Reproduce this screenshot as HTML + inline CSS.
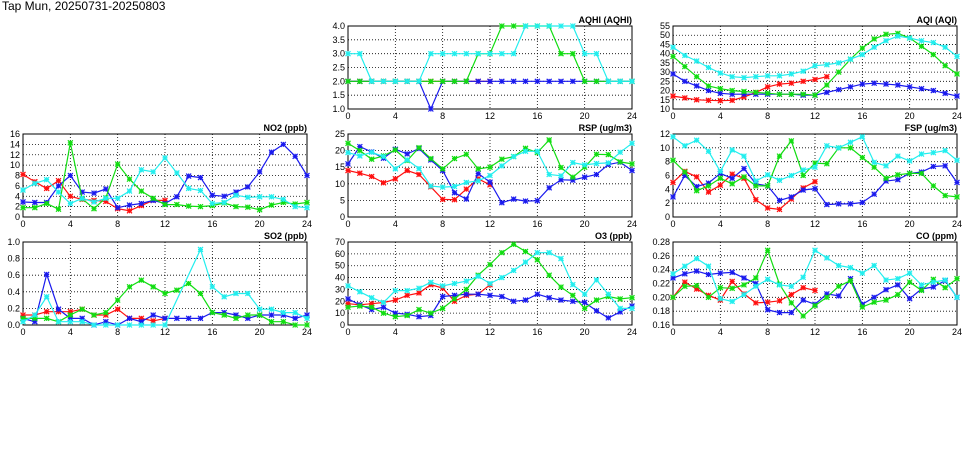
<!DOCTYPE html>
<html><head><meta charset="utf-8"><style>
body{margin:0;background:#fff;width:975px;height:447px;overflow:hidden}
svg text{font-family:"Liberation Sans",sans-serif;font-size:9px;fill:#000}
</style></head><body>
<svg id="chart" width="975" height="447" viewBox="0 0 975 447">
<text x="2" y="10" style="font-size:12px">Tap Mun, 20250731-20250803</text>
</svg>
<script>
const hours = [0,1,2,3,4,5,6,7,8,9,10,11,12,13,14,15,16,17,18,19,20,21,22,23,24];
const xTicks = [0,4,8,12,16,20,24];
const seriesColors = ["#ff1010","#1a1aee","#11dd11","#22eeee"];
const seriesNames = ["red","blue","green","cyan"];
const aqhiRed=[2,2,2,2,2,2,2,2,2,2,2,2,2];
const aqhiBlue=[2,2,2,2,2,2,2,1,2,2,2,2,2,2,2,2,2,2,2,2,2,2,2,2,2];
const aqhiGreen=[2,2,2,2,2,2,2,2,2,2,2,3,3,4,4,4,4,4,3,3,2,2,2,2,2];
const aqhiCyan=[3,3,2,2,2,2,2,3,3,3,3,3,3,3,3,4,4,4,4,4,3,3,2,2,2];
const aqiRed=[17,16,15,14.7,14.5,14.7,16.5,19,22,23.5,24,25,26,27.5];
const aqiBlue=[29,25,22.5,20,18.5,18,18,18,18,18,18,17.5,17.5,19,20.5,22,23.5,24,23.5,23,22,21,20,18.5,17];
const aqiGreen=[38.5,33,27.5,22.5,21,20,19.5,19,18.5,18,18,18,17.5,23,30,37,43,48,50.5,51,48.5,44,39.5,33.5,29];
const aqiCyan=[43.5,39,36,32.5,29.5,27.5,27,27.5,28,28,29,30.5,33.5,34,35,37,39.5,43.5,47,49.5,48.5,47,46,43.5,38.5];
const no2Red=[8.2,6.8,5.5,7,4,3.4,3.2,3.0,1.6,1.2,2.2,3.2,3.2];
const no2Blue=[2.9,2.8,2.8,6,8,4.8,4.6,5.4,1.8,2.3,2.6,3.2,2.6,3.9,7.9,7.6,4.2,4.0,4.8,5.8,8.7,12.5,14,11.7,8];
const no2Green=[1.8,1.8,2.6,1.5,14.3,3.5,1.6,3.7,10.2,7.3,5,3.6,2.4,2.4,2.1,2.0,2.2,2.7,2.0,1.9,1.4,2.3,2.8,2.5,2.8];
const no2Cyan=[5.2,6.5,7.2,4.8,2.6,3.6,2.9,3.6,3.6,5,9.1,8.7,11.4,8.5,5.5,5.1,2.6,2.8,4.2,3.8,3.9,3.9,3.4,2.0,1.8];
const rspRed=[14,13.2,12.2,10.3,11.5,14,12.8,9.1,5.3,5.2,8.4,11.5,9.7];
const rspBlue=[16,21.2,19.6,17.7,20.4,19,20.6,17.2,14,7.3,5.4,13.1,10.5,4.3,5.4,4.8,4.9,8.8,11.2,11.1,12,12.8,15.8,16.5,14];
const rspGreen=[22.2,20,17.4,18.4,20.2,17,20.9,17.6,14.5,17.6,18.9,14.5,15,17.4,18.2,20.7,19.4,23.2,14.9,12,15,18.9,18.8,16.6,16];
const rspCyan=[19.4,18.4,19.5,18.2,14.5,17.2,14.6,9.3,9,9.2,10.4,10.9,12.5,15.4,18.2,19.8,19.8,12.8,12.4,16.4,15.7,16.1,16.3,19.5,22.2];
const fspRed=[5,6.6,5.8,3.6,4.6,6.2,5.6,2.5,1.3,1.1,2.6,4.2,5.1];
const fspBlue=[2.9,6,4.4,4.9,6.3,5.6,7,4.8,4.5,2.4,2.9,3.9,4.1,1.8,1.9,1.9,2.1,3.3,5.2,5.4,6.3,6.5,7.3,7.4,5];
const fspGreen=[8.2,6.5,3.8,4.5,5.6,4.8,5.8,4.5,4.5,8.8,11,6,7.8,7.7,10,10,8.6,7.2,5.6,6.1,6.3,6.3,4.5,3.1,2.9];
const fspCyan=[11.6,10.3,11.1,9.5,6.6,9.7,8.8,5.2,6.1,5.3,6,6.8,7.2,10.3,10,10.8,11.6,7.9,7.4,8.8,8.1,9.1,9.3,9.6,8.2];
const so2Red=[0.12,0.12,0.16,0.16,0.16,0.19,0.12,0.12,0.19,0.08,0.08,0.05,0.08];
const so2Blue=[0.08,0.04,0.61,0.19,0.08,0.08,0.0,0.04,0.0,0.08,0.04,0.12,0.08,0.08,0.08,0.08,0.15,0.15,0.12,0.08,0.12,0.12,0.12,0.08,0.12];
const so2Green=[0.08,0.08,0.08,0.04,0.12,0.19,0.12,0.15,0.3,0.46,0.54,0.46,0.38,0.42,0.5,0.38,0.15,0.12,0.08,0.12,0.12,0.04,0.04,0.0,0.0];
const so2Cyan=[0.04,0.12,0.34,0.04,0.04,0.04,0.0,0.0,0.0,0.0,0.0,0.0,0.0,null,null,0.91,0.46,0.34,0.38,0.38,0.19,0.19,0.15,0.15,0.08];
const o3Red=[18,17,18,19,21,25,27,34,31,20,25,26,34];
const o3Blue=[22,17,13,15,10,9,7,8,24,25,26,26,25,24,20,21,26,23,21,20,19,12,6,11,16];
const o3Green=[15,16,15,10,7,8,13,10,14,22,30,42,51,61,68,62,55,42,32,25,14,21,24,22,23];
const o3Cyan=[33,28,23,19,29,29,31,36,33,35,37,41,35,40,46,53,61,61,56,34,26,38,26,14,14];
const coRed=[0.200,0.222,0.212,0.203,0.196,0.223,0.205,0.192,0.193,0.195,0.204,0.214,0.210];
const coBlue=[0.228,0.234,0.238,0.233,0.235,0.236,0.228,0.220,0.182,0.178,0.178,0.196,0.190,0.205,0.202,0.227,0.190,0.200,0.211,0.218,0.198,0.212,0.215,0.224,0.200];
const coGreen=[0.200,0.216,0.217,0.200,0.214,0.213,0.218,0.228,0.268,0.219,0.192,0.173,0.188,0.200,0.216,0.224,0.186,0.193,0.196,0.204,0.222,0.210,0.226,0.214,0.227];
const coCyan=[0.234,0.245,0.256,0.245,0.198,0.194,0.204,0.216,0.226,0.218,0.216,0.229,0.268,0.257,0.246,0.243,0.235,0.246,0.225,0.227,0.235,0.218,0.222,0.225,0.200];
const aqhiTicks=[1.0,1.5,2.0,2.5,3.0,3.5,4.0];
const aqiTicks=[10,15,20,25,30,35,40,45,50,55];
const no2Ticks=[0,2,4,6,8,10,12,14,16];
const rspTicks=[0,5,10,15,20,25];
const fspTicks=[0,2,4,6,8,10,12];
const so2Ticks=[0,0.2,0.4,0.6,0.8,1.0];
const o3Ticks=[0,10,20,30,40,50,60,70];
const coTicks=[0.16,0.18,0.20,0.22,0.24,0.26,0.28];

const NS="http://www.w3.org/2000/svg";
const svg=document.getElementById('chart');
function mk(tag,attrs,parent){const e=document.createElementNS(NS,tag);for(const k in attrs)e.setAttribute(k,attrs[k]);(parent||svg).appendChild(e);return e;}

const panels=[
 {id:'aqhi',title:'AQHI (AQHI)',x:348,y:26,ticks:aqhiTicks,dec:1,data:[aqhiRed,aqhiBlue,aqhiGreen,aqhiCyan]},
 {id:'aqi',title:'AQI (AQI)',x:673,y:26,ticks:aqiTicks,dec:0,data:[aqiRed,aqiBlue,aqiGreen,aqiCyan]},
 {id:'no2',title:'NO2 (ppb)',x:23,y:134,ticks:no2Ticks,dec:0,data:[no2Red,no2Blue,no2Green,no2Cyan]},
 {id:'rsp',title:'RSP (ug/m3)',x:348,y:134,ticks:rspTicks,dec:0,data:[rspRed,rspBlue,rspGreen,rspCyan]},
 {id:'fsp',title:'FSP (ug/m3)',x:673,y:134,ticks:fspTicks,dec:0,data:[fspRed,fspBlue,fspGreen,fspCyan]},
 {id:'so2',title:'SO2 (ppb)',x:23,y:242,ticks:so2Ticks,dec:1,data:[so2Red,so2Blue,so2Green,so2Cyan]},
 {id:'o3',title:'O3 (ppb)',x:348,y:242,ticks:o3Ticks,dec:0,data:[o3Red,o3Blue,o3Green,o3Cyan]},
 {id:'co',title:'CO (ppm)',x:673,y:242,ticks:coTicks,dec:2,data:[coRed,coBlue,coGreen,coCyan]},
];
const W=284,H=83;
panels.forEach(p=>{
  const g=mk('g',{});
  
  
  const ymin=p.ticks[0],ymax=p.ticks[p.ticks.length-1];
  const sx=v=>p.x+v/24*W;
  const sy=v=>p.y+H-(v-ymin)/(ymax-ymin)*H;
  p.ticks.forEach((t,i)=>{
    if(i>0&&i<p.ticks.length-1){const l=mk('line',{x1:p.x,x2:p.x+W,y1:sy(t),y2:sy(t),stroke:'#000','stroke-width':0.8,'stroke-dasharray':'1,2'},g);
    
    }
    const tx=mk('text',{x:p.x-3,y:sy(t)+3,'text-anchor':'end'},g);
    tx.textContent=t.toFixed(p.dec);
    
    
  });
  xTicks.forEach((t,i)=>{
    if(i>0&&i<xTicks.length-1){const l=mk('line',{x1:sx(t),x2:sx(t),y1:p.y,y2:p.y+H,stroke:'#000','stroke-width':0.8,'stroke-dasharray':'1,2'},g);
    
    }
    const tx=mk('text',{x:sx(t),y:p.y+H+10,'text-anchor':'middle'},g);
    tx.textContent=t;
    
    
  });
  const fr=mk('rect',{x:p.x,y:p.y,width:W,height:H,fill:'none',stroke:'#000','stroke-width':1},g);
  
  
  const tt=mk('text',{x:p.x+W,y:p.y-3,'text-anchor':'end','font-weight':'bold'},g);
  tt.textContent=p.title;
  
  
  const clip=mk('g',{},g);
  p.data.forEach((arr,si)=>{
    const c=seriesColors[si];
    const pts=[];
    arr.forEach((v,i)=>{if(v!==null)pts.push(sx(hours[i]).toFixed(1)+','+sy(v).toFixed(1));});
    const pl=mk('polyline',{points:pts.join(' '),fill:'none',stroke:c,'stroke-width':1.2},clip);
    
    
    arr.forEach((v,i)=>{
      if(v===null)return;
      const x=sx(hours[i]),y=sy(v),r=2.5;
      const m=mk('path',{d:`M${x-r},${y-r}L${x+r},${y+r}M${x-r},${y+r}L${x+r},${y-r}M${x-r},${y}L${x+r},${y}M${x},${y-r}L${x},${y+r}`,stroke:c,'stroke-width':1.2,fill:'none'},clip);
      
      
    });
  });
});
</script>
</body></html>
